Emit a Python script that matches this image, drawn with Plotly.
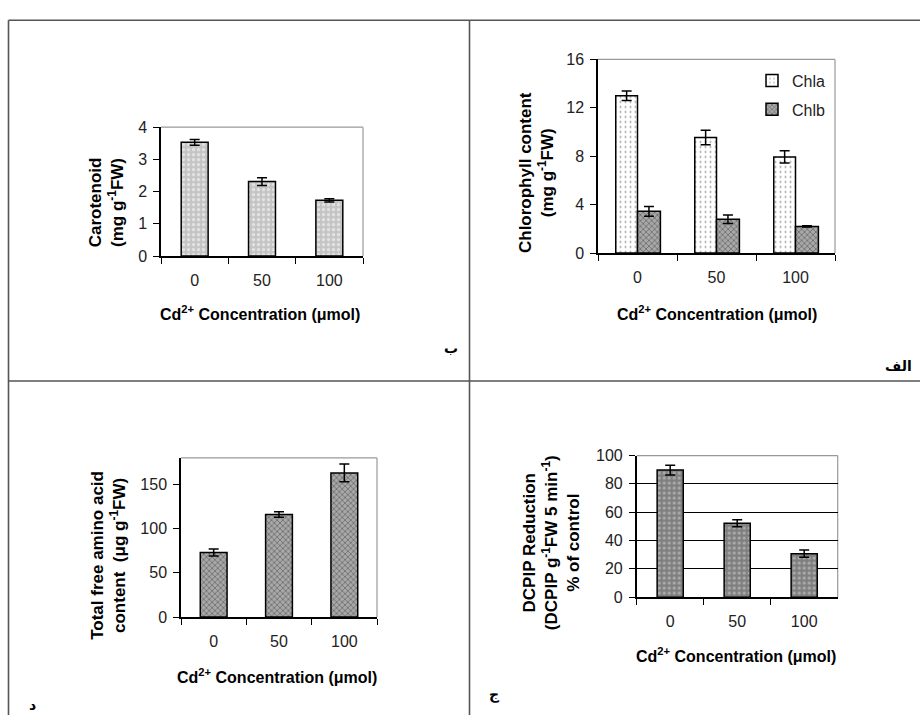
import plotly.graph_objects as go

W, H = 920, 724

# ---- data ----
conc = ["0", "50", "100"]
carotenoid = [3.53, 2.31, 1.73]
carotenoid_err = [0.09, 0.12, 0.05]
chla = [13.0, 9.55, 7.95]
chla_err = [0.4, 0.6, 0.5]
chlb = [3.45, 2.8, 2.2]
chlb_err = [0.4, 0.35, 0.05]
amino = [73, 116, 163]
amino_err = [4, 3, 10]
dcpip = [89.7, 52.2, 30.7]
dcpip_err = [3.4, 2.5, 2.6]

def px(x):
    return x / W

def py(y):
    return 1 - y / H

FONT = "Liberation Sans"
TICKFONT = dict(family=FONT, size=16, color="#222")
TITLEFONT = dict(family=FONT, size=16, color="#000", weight="bold")
YTITLEFONT = dict(family=FONT, size=17, color="#000", weight="bold")
ERR = dict(type="data", visible=True, color="#000", thickness=1.5, width=5)
LINE = dict(color="#000", width=1.5)
HATCH = dict(shape="x", fgcolor="#3a3a3a", bgcolor="#a8a8a8", size=4, solidity=0.4)

fig = go.Figure()

# Panel ب : carotenoid
fig.add_trace(go.Bar(
    x=conc, y=carotenoid, width=0.4, xaxis="x", yaxis="y",
    error_y=dict(array=carotenoid_err, **ERR),
    marker=dict(color="#c6c6c6", line=LINE,
                pattern=dict(shape=".", fgcolor="#ffffff", bgcolor="#c4c4c4", size=5, solidity=0.35)),
    showlegend=False))

# Panel الف : chlorophyll
fig.add_trace(go.Bar(
    x=conc, y=chla, width=0.275, offset=-0.275, xaxis="x2", yaxis="y2", name="Chla",
    legendgroup="a",
    error_y=dict(array=chla_err, **ERR),
    marker=dict(color="#ffffff", line=LINE,
                pattern=dict(shape=".", fgcolor="#333333", bgcolor="#ffffff", size=5, solidity=0.12))))
fig.add_trace(go.Bar(
    x=conc, y=chlb, width=0.29, offset=0.0, xaxis="x2", yaxis="y2", name="Chlb",
    legendgroup="b",
    error_y=dict(array=chlb_err, **ERR),
    marker=dict(color="#999999", line=LINE, pattern=HATCH)))

# Panel د : amino acid
fig.add_trace(go.Bar(
    x=conc, y=amino, width=0.41, xaxis="x3", yaxis="y3",
    error_y=dict(array=amino_err, **ERR),
    marker=dict(color="#999999", line=LINE, pattern=HATCH),
    showlegend=False))

# Panel ج : DCPIP
fig.add_trace(go.Bar(
    x=conc, y=dcpip, width=0.39, xaxis="x4", yaxis="y4",
    error_y=dict(array=dcpip_err, **ERR),
    marker=dict(color="#8a8a8a", line=LINE,
                pattern=dict(shape=".", fgcolor="#dddddd", bgcolor="#7f7f7f", size=5, solidity=0.3)),
    showlegend=False))

def xax(dom, anchor):
    return dict(domain=dom, anchor=anchor, type="category", showline=True, linecolor="#000",
                linewidth=1.5, ticks="outside", tickson="boundaries", ticklen=6, tickcolor="#000",
                tickwidth=1.2, tickfont=TICKFONT, ticklabelstandoff=9, showgrid=False,
                zeroline=False, fixedrange=True)

def yax(dom, anchor, rng, vals, grid=False):
    return dict(domain=dom, anchor=anchor, range=rng, tickvals=vals, showline=True,
                linecolor="#000", linewidth=1.5, ticks="outside", ticklen=6, tickcolor="#000",
                tickwidth=1.2, tickfont=TICKFONT, ticklabelstandoff=3, showgrid=grid,
                gridcolor="#000", gridwidth=1.2, zeroline=False, fixedrange=True)

# plot areas (pixel boxes)
boxes = {
    1: (161, 363, 122, 254),
    2: (598, 835, 52.7, 251),
    3: (181, 377, 460.7, 623.7),
    4: (636.7, 837.7, 458.3, 603.3),
}

def doms(i):
    x0, x1, y0, y1 = boxes[i]
    return [px(x0), px(x1)], [py(y1), py(y0)]

d1x, d1y = doms(1)
d2x, d2y = doms(2)
d3x, d3y = doms(3)
d4x, d4y = doms(4)

fig.update_layout(
    width=W, height=H, margin=dict(l=0, r=0, t=0, b=0),
    paper_bgcolor="white", plot_bgcolor="white",
    xaxis=xax(d1x, "y"), yaxis=yax(d1y, "x", [0, 4], [0, 1, 2, 3, 4]),
    xaxis2=xax(d2x, "y2"), yaxis2=yax(d2y, "x2", [0, 16], [0, 4, 8, 12, 16]),
    xaxis3=xax(d3x, "y3"), yaxis3=yax(d3y, "x3", [0, 180], [0, 50, 100, 150]),
    xaxis4=xax(d4x, "y4"), yaxis4=yax(d4y, "x4", [0, 100], [0, 20, 40, 60, 80, 100], grid=True),
    showlegend=True,
    legend=dict(x=px(752), y=py(57), xanchor="left", yanchor="top", bgcolor="rgba(0,0,0,0)",
                font=dict(family=FONT, size=16, color="#222"), traceorder="grouped",
                tracegroupgap=5, itemwidth=30),
)

shapes = []
# gray top/right borders of plot areas
for i in range(1, 5):
    sx = "x domain" if i == 1 else f"x{i} domain"
    sy = "y domain" if i == 1 else f"y{i} domain"
    shapes.append(dict(type="line", xref=sx, yref=sy, x0=0, x1=1, y0=1, y1=1,
                       line=dict(color="#999", width=1.2), layer="below"))
    shapes.append(dict(type="line", xref=sx, yref=sy, x0=1, x1=1, y0=0, y1=1,
                       line=dict(color="#999", width=1.2), layer="below"))

# table frame lines
TL = dict(color="#555", width=1.6)
shapes += [
    dict(type="line", xref="paper", yref="paper", x0=px(8.5), x1=1, y0=py(12.5), y1=py(12.5), line=TL),
    dict(type="line", xref="paper", yref="paper", x0=px(8.5), x1=px(8.5), y0=py(12.5), y1=0, line=TL),
    dict(type="line", xref="paper", yref="paper", x0=px(469.5), x1=px(469.5), y0=py(12.5), y1=0, line=TL),
    dict(type="line", xref="paper", yref="paper", x0=px(8.5), x1=1, y0=py(382), y1=py(382), line=TL),
]
fig.update_layout(shapes=shapes)

xtitle = "Cd<sup>2+</sup> Concentration (μmol)"
ann = []
def add_text(text, x, y, angle=0, font=TITLEFONT):
    ann.append(dict(text=text, x=px(x), y=py(y), xref="paper", yref="paper", showarrow=False,
                    textangle=angle, font=font, xanchor="center", yanchor="middle", align="center"))

add_text(xtitle, 260, 312)
add_text(xtitle, 717, 312)
add_text(xtitle, 277, 684)
add_text(xtitle, 736, 663)

add_text("Carotenoid<br>(mg g<sup>-1</sup>FW)", 106, 199, -90, YTITLEFONT)
add_text("Chlorophyll content<br>(mg g<sup>-1</sup>FW)", 536, 169, -90, YTITLEFONT)
add_text("Total free amino acid<br>content  (μg g<sup>-1</sup>FW)", 109, 561, -90, YTITLEFONT)
add_text("DCPIP Reduction<br>(DCPIP g<sup>-1</sup>FW 5 min<sup>-1</sup>)<br>% of control", 551, 548, -90, YTITLEFONT)

AR = dict(family="DejaVu Sans", size=14, color="#000", weight="bold")
add_text("ب", 451, 348, font=AR)
add_text("الف", 898, 367, font=AR)
add_text("د", 32, 714, font=AR)
add_text("ج", 494, 703, font=AR)

fig.update_layout(annotations=ann)

post = ("document.documentElement.style.margin='0';document.body.style.margin='0';"
        "document.body.style.padding='0';document.body.style.overflow='hidden';"
        "document.documentElement.style.overflow='hidden';")
fig.write_html("out.html", post_script=post, config={"displayModeBar": False})
